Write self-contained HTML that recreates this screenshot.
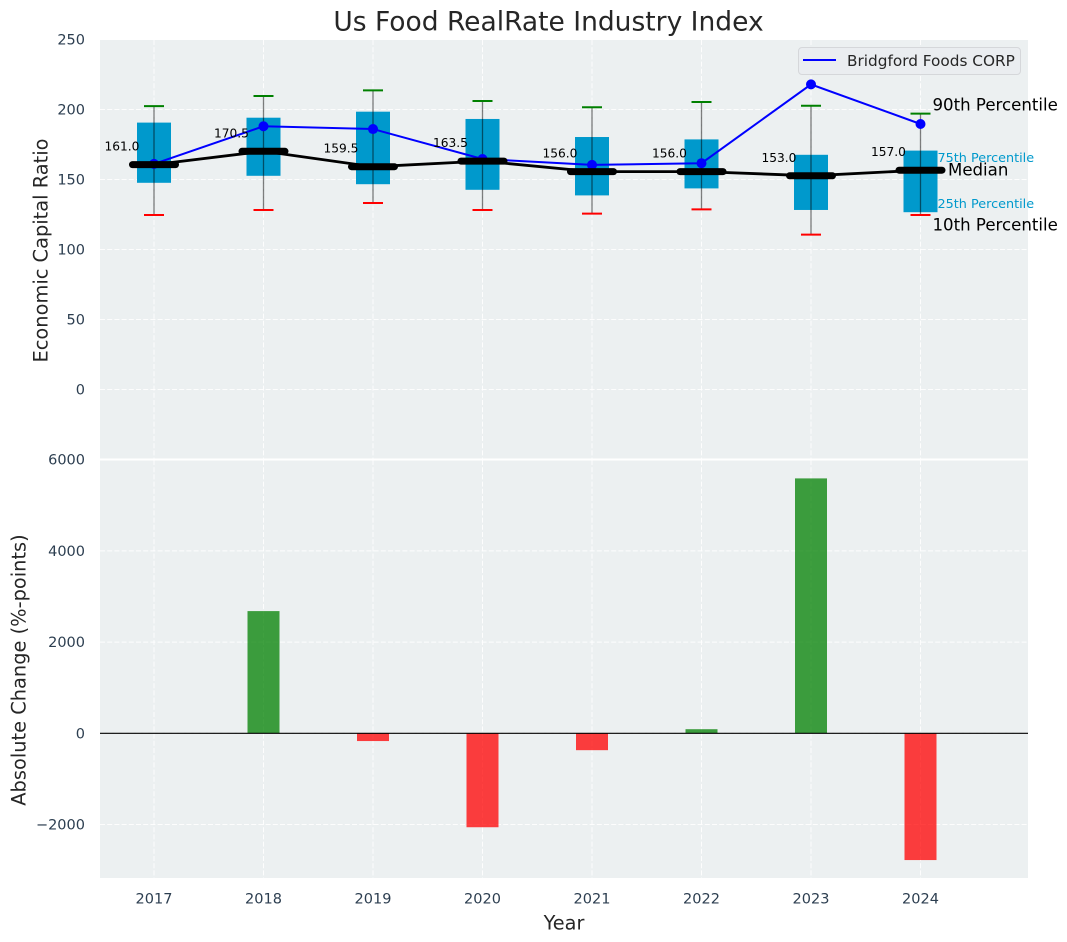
<!DOCTYPE html>
<html lang="en">
<head>
<meta charset="utf-8">
<title>Us Food RealRate Industry Index</title>
<style>
html,body{margin:0;padding:0;background:#fff;width:1067px;height:942px;overflow:hidden}
svg{display:block;font-family:"DejaVu Sans","Liberation Sans",sans-serif}
text{dominant-baseline:central}
</style>
</head>
<body>
<svg id="chart" xmlns="http://www.w3.org/2000/svg" width="1067" height="942" viewBox="0 0 1067 942"></svg>
<script>
const years = [2017, 2018, 2019, 2020, 2021, 2022, 2023, 2024];
const p90 = [202.8, 210, 214, 206.4, 202, 205.7, 203, 197.4];
const p75 = [191, 194.5, 198.8, 193.6, 180.7, 179, 168, 171];
const medians = [161, 170.5, 159.5, 163.5, 156, 156, 153, 157];
const p25 = [148, 153, 147, 143, 139, 144, 128.6, 127];
const p10 = [125, 128.6, 133.6, 128.6, 126, 129, 111, 125];
const company = [161.5, 188.4, 186.4, 165, 160.8, 162, 218.3, 190];
const absChange = [0, 2680, -170, -2060, -370, 90, 5590, -2780];
const topTicks = [0, 50, 100, 150, 200, 250];
const bottomTicks = [-2000, 0, 2000, 4000, 6000];

const svg = document.getElementById('chart');
const NS = 'http://www.w3.org/2000/svg';
const plotL = 100, plotR = 1028, topT = 40, topB = 460, botT = 460, botB = 878;

function xPos(y) { return 154 + (y - 2017) * 109.5; }
function yTop(v) { return 390 - v * 1.4; }
function yBot(v) { return 733.3 - v * 0.0456; }

function add(tag, attrs, text) {
  const e = document.createElementNS(NS, tag);
  for (const k in attrs) e.setAttribute(k, attrs[k]);
  if (text !== undefined) e.textContent = text;
  svg.appendChild(e);
  return e;
}
let el;

el = add('rect', {x: plotL, y: topT, width: plotR - plotL, height: topB - topT, fill: '#ECF0F1'});


el = add('rect', {x: plotL, y: botT, width: plotR - plotL, height: botB - botT, fill: '#ECF0F1'});



const gridStyle = {stroke: '#fff', 'stroke-width': 1, 'stroke-dasharray': '5,2.2', opacity: 0.9};
years.forEach(function (y) {
  let g = add('line', Object.assign({x1: xPos(y), x2: xPos(y), y1: topT, y2: topB}, gridStyle));
  
  
  g = add('line', Object.assign({x1: xPos(y), x2: xPos(y), y1: botT, y2: botB}, gridStyle));
  
  
  const t = add('text', {x: xPos(y), y: 899.5, 'text-anchor': 'middle', 'font-size': 14.5, fill: '#2C3E50'}, String(y));
  
  
});
topTicks.forEach(function (v) {
  const g = add('line', Object.assign({x1: plotL, x2: plotR, y1: yTop(v) - 0.5, y2: yTop(v) - 0.5}, gridStyle));
  
  
  const t = add('text', {x: 85, y: yTop(v) + 0.5, 'text-anchor': 'end', 'font-size': 14.5, fill: '#2C3E50'}, String(v));
  
  
});
bottomTicks.forEach(function (v) {
  const g = add('line', Object.assign({x1: plotL, x2: plotR, y1: yBot(v), y2: yBot(v)}, gridStyle));
  
  
  const label = v < 0 ? '\u2212' + Math.abs(v) : String(v);
  const t = add('text', {x: 85, y: yBot(v) + 1, 'text-anchor': 'end', 'font-size': 14.5, fill: '#2C3E50'}, label);
  
  
});

el = add('line', {x1: plotL, x2: plotR, y1: 459.5, y2: 459.5, stroke: '#fff', 'stroke-width': 2});



const boxW = 34, capW = 20, medW = 43, barW = 32;

years.forEach(function (y, i) {
  const x = xPos(y);
  const box = add('rect', {x: x - boxW / 2, y: yTop(p75[i]), width: boxW, height: yTop(p25[i]) - yTop(p75[i]), fill: '#0099CC'});
  
  
  const w = add('line', {x1: x, x2: x, y1: yTop(p90[i]), y2: yTop(p10[i]), stroke: '#000', 'stroke-opacity': 0.5, 'stroke-width': 1.3});
  
  
  const c1 = add('line', {x1: x - capW / 2, x2: x + capW / 2, y1: yTop(p90[i]), y2: yTop(p90[i]), stroke: 'green', 'stroke-width': 2});
  
  
  const c2 = add('line', {x1: x - capW / 2, x2: x + capW / 2, y1: yTop(p10[i]), y2: yTop(p10[i]), stroke: 'red', 'stroke-width': 2});
  
  
});

el = add('polyline', {points: years.map(function (y, i) { return xPos(y) + ',' + yTop(company[i]); }).join(' '), fill: 'none', stroke: 'blue', 'stroke-width': 2});


years.forEach(function (y, i) {
  const p = add('circle', {cx: xPos(y), cy: yTop(company[i]), r: 5, fill: 'blue'});
  
  
});

el = add('polyline', {points: years.map(function (y, i) { return xPos(y) + ',' + yTop(medians[i]); }).join(' '), fill: 'none', stroke: '#000', 'stroke-width': 2.8});


years.forEach(function (y, i) {
  const x = xPos(y);
  const m = add('line', {x1: x - medW / 2, x2: x + medW / 2, y1: yTop(medians[i]), y2: yTop(medians[i]), stroke: '#000', 'stroke-width': 7, 'stroke-linecap': 'round'});
  
  
  const t = add('text', {x: x - 32, y: yTop(medians[i]) - 18, 'text-anchor': 'middle', 'font-size': 12.2, fill: '#000'}, medians[i].toFixed(1));
  
  
});

years.forEach(function (y, i) {
  const v = absChange[i];
  const b = add('rect', {x: xPos(y) - barW / 2, y: Math.min(yBot(v), yBot(0)), width: barW, height: Math.abs(yBot(v) - yBot(0)), fill: v >= 0 ? 'green' : 'red', 'fill-opacity': 0.75});
  
  
});
el = add('line', {x1: plotL, x2: plotR, y1: yBot(0), y2: yBot(0), stroke: '#000', 'stroke-width': 1.2});



const last = years.length - 1;
const lastX = xPos(years[last]);
el = add('text', {x: lastX + 12, y: yTop(p90[last]) - 8.5, 'font-size': 16.6, fill: '#000'}, '90th Percentile');


el = add('text', {x: lastX + 17, y: yTop(p75[last]) + 8, 'font-size': 12.8, fill: '#0099CC'}, '75th Percentile');


el = add('text', {x: lastX + 27.5, y: yTop(medians[last]), 'font-size': 16.6, fill: '#000'}, 'Median');


el = add('text', {x: lastX + 17, y: yTop(p25[last]) - 7.5, 'font-size': 12.8, fill: '#0099CC'}, '25th Percentile');


el = add('text', {x: lastX + 12, y: yTop(p10[last]) + 10, 'font-size': 16.6, fill: '#000'}, '10th Percentile');



el = add('rect', {x: 798.5, y: 47.5, width: 222, height: 27, rx: 3.5, fill: '#EAECF0', 'fill-opacity': 0.9, stroke: '#D5D7DA', 'stroke-width': 1});


el = add('line', {x1: 803, x2: 836, y1: 60, y2: 60, stroke: 'blue', 'stroke-width': 2});


el = add('text', {x: 847, y: 61, 'font-size': 15.3, fill: '#262626'}, 'Bridgford Foods CORP');



el = add('text', {x: 548.5, y: 22, 'text-anchor': 'middle', 'font-size': 26.5, fill: '#262626'}, 'Us Food RealRate Industry Index');


el = add('text', {x: 564, y: 923, 'text-anchor': 'middle', 'font-size': 19.3, fill: '#262626'}, 'Year');


el = add('text', {x: 41, y: 250.5, 'text-anchor': 'middle', 'font-size': 19.4, fill: '#262626', transform: 'rotate(-90 41 250.5)'}, 'Economic Capital Ratio');


el = add('text', {x: 19, y: 670, 'text-anchor': 'middle', 'font-size': 19.4, fill: '#262626', transform: 'rotate(-90 19 670)'}, 'Absolute Change (%-points)');


</script>
</body>
</html>
